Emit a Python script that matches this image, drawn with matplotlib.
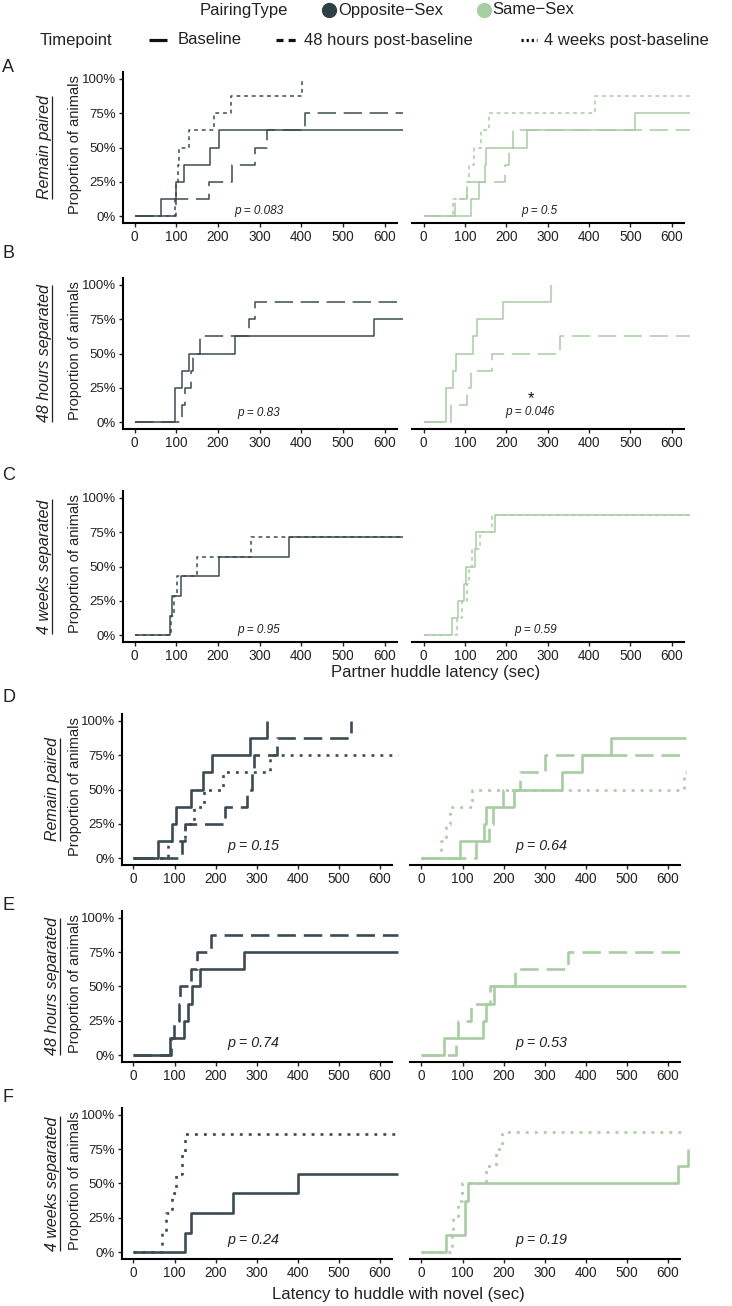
import matplotlib
matplotlib.use('Agg')
import matplotlib.pyplot as plt

plt.rcParams['font.family'] = ['Liberation Sans', 'DejaVu Sans']

W, H = 732, 1306
DARK = '#3b4b51'
LIGHT = '#a8cda3'

XTICKS = [0, 100, 200, 300, 400, 500, 600]
YTICKS = [0, 0.25, 0.5, 0.75, 1.0]
YTICKLABELS = ['0%', '25%', '50%', '75%', '100%']
END = 645  # observation window end (sec)

ROW_LABELS = ['Remain paired', '48 hours separated', '4 weeks separated',
              'Remain paired', '48 hours separated', '4 weeks separated']
LETTERS = ['A', 'B', 'C', 'D', 'E', 'F']
P_OPP = ['p = 0.083', 'p = 0.83', 'p = 0.95', 'p = 0.15', 'p = 0.74', 'p = 0.24']
P_SAME = ['p = 0.5', 'p = 0.046', 'p = 0.59', 'p = 0.64', 'p = 0.53', 'p = 0.19']
SIG_SAME = ['', '*', '', '', '', '']
XLABEL_TOP = 'Partner huddle latency (sec)'
XLABEL_BOT = 'Latency to huddle with novel (sec)'
TIMEPOINTS = ['Baseline', '48 hours post-baseline', '4 weeks post-baseline']
PAIRING = ['Opposite\u2212Sex', 'Same\u2212Sex']

# ---- Panel A: remain paired, partner huddle
A_opp_base_t = [64, 100, 118, 182, 202]
A_opp_base_p = [0.125, 0.25, 0.375, 0.5, 0.625]
A_opp_48h_t = [100, 179, 234, 288, 318, 408]
A_opp_48h_p = [0.125, 0.25, 0.375, 0.5, 0.625, 0.75]
A_opp_4wk_t = [96, 100, 103, 106, 130, 190, 232, 403]
A_opp_4wk_p = [0.125, 0.25, 0.375, 0.5, 0.625, 0.75, 0.875, 1.0]
A_same_base_t = [114, 133, 148, 151, 251, 511]
A_same_base_p = [0.125, 0.25, 0.375, 0.5, 0.625, 0.75]
A_same_48h_t = [76, 106, 197, 206, 216]
A_same_48h_p = [0.125, 0.25, 0.375, 0.5, 0.625]
A_same_4wk_t = [72, 105, 111, 122, 139, 159, 415]
A_same_4wk_p = [0.125, 0.25, 0.375, 0.5, 0.625, 0.75, 0.875]

# ---- Panel B: 48 hours separated, partner huddle
B_opp_base_t = [96, 114, 131, 242, 575]
B_opp_base_p = [0.25, 0.375, 0.5, 0.625, 0.75]
B_opp_48h_t = [114, 122, 136, 140, 156, 274, 290]
B_opp_48h_p = [0.125, 0.25, 0.375, 0.5, 0.625, 0.75, 0.875]
B_same_base_t = [55, 71, 79, 119, 129, 191, 308]
B_same_base_p = [0.25, 0.375, 0.5, 0.625, 0.75, 0.875, 1.0]
B_same_48h_t = [66, 106, 114, 165, 330]
B_same_48h_p = [0.125, 0.25, 0.375, 0.5, 0.625]

# ---- Panel C: 4 weeks separated, partner huddle
C_opp_base_t = [86, 90, 111, 203, 371]
C_opp_base_p = [0.143, 0.286, 0.429, 0.571, 0.714]
C_opp_4wk_t = [88, 95, 102, 150, 280]
C_opp_4wk_p = [0.143, 0.286, 0.429, 0.571, 0.714]
C_same_base_t = [68, 83, 97, 102, 124, 128, 173]
C_same_base_p = [0.125, 0.25, 0.375, 0.5, 0.625, 0.75, 0.875]
C_same_4wk_t = [80, 92, 104, 110, 118, 137, 165]
C_same_4wk_p = [0.125, 0.25, 0.375, 0.5, 0.625, 0.75, 0.875]

# ---- Panel D: remain paired, novel huddle
D_opp_base_t = [59, 94, 104, 139, 170, 192, 284, 326]
D_opp_base_p = [0.125, 0.25, 0.375, 0.5, 0.625, 0.75, 0.875, 1.0]
D_opp_48h_t = [118, 126, 222, 276, 290, 294, 349, 530]
D_opp_48h_p = [0.125, 0.25, 0.375, 0.5, 0.625, 0.75, 0.875, 1.0]
D_opp_4wk_t = [84, 126, 147, 173, 219, 333]
D_opp_4wk_p = [0.125, 0.25, 0.375, 0.5, 0.625, 0.75]
D_same_base_t = [95, 152, 158, 225, 343, 390, 461]
D_same_base_p = [0.125, 0.25, 0.375, 0.5, 0.625, 0.75, 0.875]
D_same_48h_t = [134, 165, 175, 198, 240, 301]
D_same_48h_p = [0.125, 0.25, 0.375, 0.5, 0.625, 0.75]
D_same_4wk_t = [47, 60, 70, 124, 640]
D_same_4wk_p = [0.125, 0.25, 0.375, 0.5, 0.625]

# ---- Panel E: 48 hours separated, novel huddle
E_opp_base_t = [90, 124, 132, 143, 163, 269]
E_opp_base_p = [0.125, 0.25, 0.375, 0.5, 0.625, 0.75]
E_opp_48h_t = [92, 98, 110, 114, 141, 155, 188]
E_opp_48h_p = [0.125, 0.25, 0.375, 0.5, 0.625, 0.75, 0.875]
E_same_base_t = [55, 150, 156, 176]
E_same_base_p = [0.125, 0.25, 0.375, 0.5]
E_same_48h_t = [84, 90, 121, 166, 229, 357]
E_same_48h_p = [0.125, 0.25, 0.375, 0.5, 0.625, 0.75]

# ---- Panel F: 4 weeks separated, novel huddle
F_opp_base_t = [125, 139, 242, 400]
F_opp_base_p = [0.143, 0.286, 0.429, 0.571]
F_opp_4wk_t = [69, 79, 94, 104, 118, 126]
F_opp_4wk_p = [0.143, 0.286, 0.429, 0.571, 0.714, 0.857]
F_same_base_t = [59, 106, 107, 113, 624, 650]
F_same_base_p = [0.125, 0.25, 0.375, 0.5, 0.625, 0.75]
F_same_4wk_t = [74, 76, 90, 99, 158, 181, 197]
F_same_4wk_p = [0.125, 0.25, 0.375, 0.5, 0.625, 0.75, 0.875]

PANELS = [
    ({0: (A_opp_base_t, A_opp_base_p), 1: (A_opp_48h_t, A_opp_48h_p), 2: (A_opp_4wk_t, A_opp_4wk_p)},
     {0: (A_same_base_t, A_same_base_p), 1: (A_same_48h_t, A_same_48h_p), 2: (A_same_4wk_t, A_same_4wk_p)}),
    ({0: (B_opp_base_t, B_opp_base_p), 1: (B_opp_48h_t, B_opp_48h_p)},
     {0: (B_same_base_t, B_same_base_p), 1: (B_same_48h_t, B_same_48h_p)}),
    ({0: (C_opp_base_t, C_opp_base_p), 2: (C_opp_4wk_t, C_opp_4wk_p)},
     {0: (C_same_base_t, C_same_base_p), 2: (C_same_4wk_t, C_same_4wk_p)}),
    ({0: (D_opp_base_t, D_opp_base_p), 1: (D_opp_48h_t, D_opp_48h_p), 2: (D_opp_4wk_t, D_opp_4wk_p)},
     {0: (D_same_base_t, D_same_base_p), 1: (D_same_48h_t, D_same_48h_p), 2: (D_same_4wk_t, D_same_4wk_p)}),
    ({0: (E_opp_base_t, E_opp_base_p), 1: (E_opp_48h_t, E_opp_48h_p)},
     {0: (E_same_base_t, E_same_base_p), 1: (E_same_48h_t, E_same_48h_p)}),
    ({0: (F_opp_base_t, F_opp_base_p), 2: (F_opp_4wk_t, F_opp_4wk_p)},
     {0: (F_same_base_t, F_same_base_p), 2: (F_same_4wk_t, F_same_4wk_p)}),
]


def curve(t, p, end=END):
    x = [0] + list(t)
    y = [0] + list(p)
    if p[-1] < 1.0 and end > t[-1]:
        x.append(end)
        y.append(p[-1])
    return x, y


fig = plt.figure(figsize=(W / 100, H / 100), dpi=100)
ov = fig.add_axes([0, 0, 1, 1])
ov.set_xlim(0, W)
ov.set_ylim(H, 0)
ov.axis('off')
ov.patch.set_visible(False)


def add_ax(l, t, r, b):
    return fig.add_axes([l / W, 1 - b / H, (r - l) / W, (b - t) / H])


AX_H = 151
BOTTOMS = [223, 429, 642, 865, 1062, 1259]
LETTER_Y = [68, 254, 475, 698, 905, 1097]

LW_TOP, LW_BOT = 1.1, 1.9
LS_TOP = {0: '-', 1: (0, (12, 5)), 2: (0, (2.5, 2.5))}
LS_BOT = {0: '-', 1: (0, (7, 3)), 2: (0, (1.1, 2.3))}

row_texts = []
for i, (opp, same) in enumerate(PANELS):
    top_block = i < 3
    b = BOTTOMS[i]
    t = b - AX_H
    if top_block:
        lx = (123, 397)
        rx = (412, 684)
        lw = LW_TOP
        ls = LS_TOP
        pfs = 8.5
        py = 0.04
        pxl, pxr = 298, 280
        rowx = 49
    else:
        lx = (122, 392)
        rx = (410, 680)
        lw = LW_BOT
        ls = LS_BOT
        pfs = 10.3
        py = 0.087
        pxl, pxr = 293, 293
        rowx = 57
    if i == 1:
        py_l, py_r = 0.066, 0.072
        pxr = 258
    elif i == 2:
        py_l, py_r = 0.036, 0.036
        pxr = 272
    else:
        py_l, py_r = py, py

    for side, (xr, data, color) in enumerate([(lx, opp, DARK), (rx, same, LIGHT)]):
        ax = add_ax(xr[0], t, xr[1], b)
        ax.set_xlim(-28, 630)
        ax.set_ylim(-0.05, 1.05)
        ax.patch.set_visible(False)
        for k in (0, 1, 2):
            if k in data:
                x, y = curve(*data[k])
                ax.plot(x, y, drawstyle='steps-post', color=color, lw=lw,
                        linestyle=ls[k], clip_on=False,
                        solid_capstyle='butt', dash_capstyle='butt')
        ax.spines['top'].set_visible(False)
        ax.spines['right'].set_visible(False)
        ax.spines['bottom'].set_linewidth(1.5)
        ax.spines['left'].set_linewidth(1.5)
        ax.set_xticks(XTICKS)
        ax.set_xticklabels([str(v) for v in XTICKS])
        ax.tick_params(axis='x', length=3, width=1.0, pad=2, labelsize=9.8,
                       colors='#222222')
        if side == 0:
            ax.set_yticks(YTICKS)
            ax.set_yticklabels(YTICKLABELS)
            ax.tick_params(axis='y', length=3, width=1.0, pad=2, labelsize=9.5,
                           colors='#222222')
            ax.text(pxl, py_l, P_OPP[i], style='italic', fontsize=pfs,
                    ha='center', va='center', color='#222222')
        else:
            ax.spines['left'].set_visible(False)
            ax.tick_params(axis='y', left=False, labelleft=False)
            ax.text(pxr, py_r, P_SAME[i], style='italic', fontsize=pfs,
                    ha='center', va='center', color='#222222')
            if SIG_SAME[i]:
                ax.text(pxr + 2, 0.17, SIG_SAME[i], fontsize=12, ha='center',
                        va='center', color='#111111')

    yc = (t + b) / 2
    # y-axis label
    ov.text(79, yc - 3, 'Proportion of animals', rotation=90, rotation_mode='anchor',
            ha='center', va='baseline', fontsize=10.5, color='#222222')
    # row label (italic, underlined)
    rt = ov.text(rowx, yc, ROW_LABELS[i], rotation=90, rotation_mode='anchor',
                 ha='center', va='baseline', fontsize=11.5, style='italic',
                 color='#222222')
    row_texts.append((rt, rowx))
    ov.text(2, LETTER_Y[i], LETTERS[i], fontsize=13, ha='left', va='center',
            color='#222222')

# x-axis titles
ov.text(436, 672, XLABEL_TOP, fontsize=12, ha='center', va='center', color='#222222')
ov.text(398, 1295, XLABEL_BOT, fontsize=12, ha='center', va='center', color='#222222')

# legend row 1
ov.text(200, 10, 'PairingType', fontsize=12, ha='left', va='center', color='#222222')
ov.plot([329], [10], 'o', ms=10, color='#2f4045', clip_on=False)
ov.text(338, 10, PAIRING[0], fontsize=12, ha='left', va='center', color='#222222')
ov.plot([484], [10], 'o', ms=10, color=LIGHT, clip_on=False)
ov.text(492, 10, PAIRING[1], fontsize=12, ha='left', va='center', color='#222222')

# legend row 2
ov.text(40, 40, 'Timepoint', fontsize=12, ha='left', va='center', color='#222222')
ov.plot([149, 167], [40, 40], color='#111111', lw=2.3, solid_capstyle='butt')
ov.text(178, 40, TIMEPOINTS[0], fontsize=12, ha='left', va='center', color='#222222')
ov.plot([276, 297], [40, 40], color='#111111', lw=2.3, linestyle=(0, (2.2, 1.6)),
        dash_capstyle='butt')
ov.text(304, 40, TIMEPOINTS[1], fontsize=12, ha='left', va='center', color='#222222')
ov.plot([521, 537], [40, 40], color='#111111', lw=2.3, linestyle=(0, (0.7, 0.9)),
        dash_capstyle='butt')
ov.text(544, 40, TIMEPOINTS[2], fontsize=12, ha='left', va='center', color='#222222')

# underline the row labels
fig.canvas.draw()
inv = ov.transData.inverted()
for rt, rowx in row_texts:
    bb = rt.get_window_extent()
    (_, y0), (_, y1) = inv.transform([[bb.x0, bb.y0], [bb.x1, bb.y1]])
    ov.plot([rowx + 3, rowx + 3], [min(y0, y1), max(y0, y1)], color='#222222',
            lw=0.9, solid_capstyle='butt')

fig.savefig('out.png', dpi=100)
